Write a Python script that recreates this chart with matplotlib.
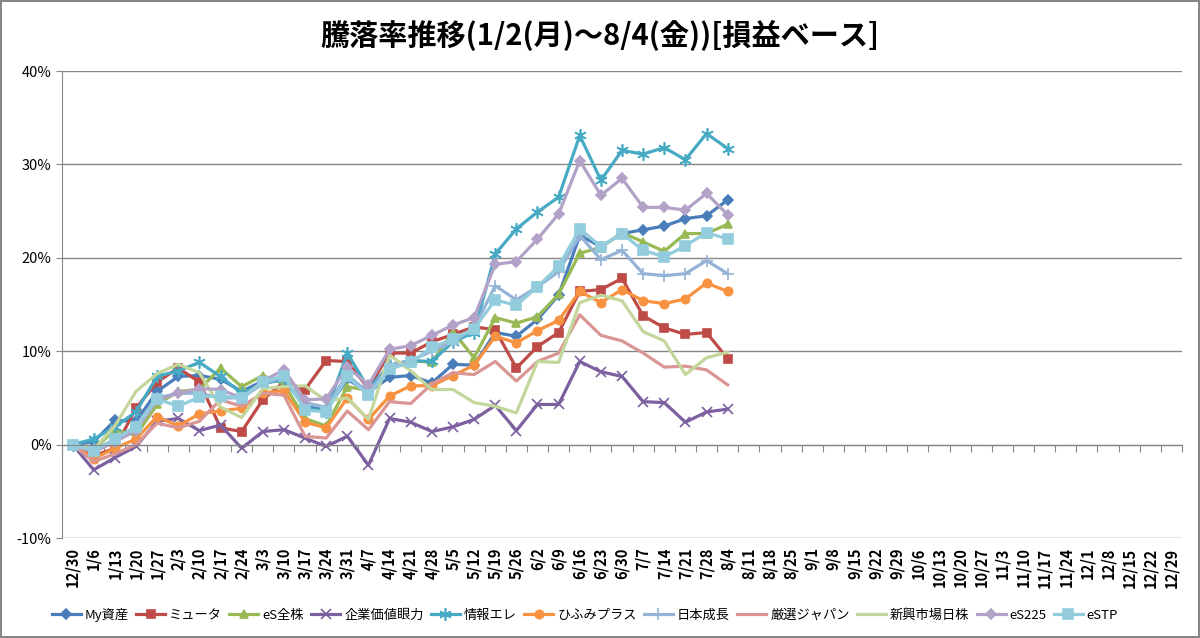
import matplotlib
matplotlib.use("Agg")
import matplotlib.pyplot as plt
import numpy as np
from matplotlib.ticker import FuncFormatter

plt.rcParams['font.family'] = ['Noto Sans CJK JP', 'DejaVu Sans']

_GRID = "#868686"
_TXT = "#000000"

dates = ["12/30", "1/6", "1/13", "1/20", "1/27", "2/3", "2/10", "2/17", "2/24",
         "3/3", "3/10", "3/17", "3/24", "3/31", "4/7", "4/14", "4/21", "4/28",
         "5/5", "5/12", "5/19", "5/26", "6/2", "6/9", "6/16", "6/23", "6/30",
         "7/7", "7/14", "7/21", "7/28", "8/4", "8/11", "8/18", "8/25", "9/1",
         "9/8", "9/15", "9/22", "9/29", "10/6", "10/13", "10/20", "10/27",
         "11/3", "11/10", "11/17", "11/24", "12/1", "12/8", "12/15", "12/22",
         "12/29"]

# weekly returns in %, 12/30 .. 8/4
my_assets = [0, 0.3, 2.6, 2.5, 5.7, 7.3, 7.4, 7.0, 5.7, 6.8, 7.0, 4.1, 3.7, 7.0,
             5.6, 7.2, 7.4, 6.6, 8.6, 8.5, 12.0, 11.6, 13.4, 16.0, 22.4, 21.2,
             22.6, 23.0, 23.4, 24.2, 24.5, 26.2]
myuta = [0, -1.2, -0.4, 3.9, 6.7, 8.2, 6.7, 1.8, 1.4, 4.8, 6.7, 5.9, 9.0, 8.9,
         6.0, 9.8, 9.8, 11.0, 11.8, 12.6, 12.3, 8.2, 10.5, 12.0, 16.4, 16.6,
         17.8, 13.8, 12.5, 11.8, 12.0, 9.2]
es_all = [0, -0.5, 1.6, 1.0, 4.3, 5.7, 5.9, 8.2, 6.2, 7.4, 6.5, 2.8, 2.0, 6.2,
          5.8, 8.5, 9.0, 8.8, 12.1, 9.3, 13.6, 13.0, 13.7, 16.1, 20.5, 21.1,
          22.7, 21.7, 20.7, 22.6, 22.6, 23.6]
kigyo = [0, -2.7, -1.4, -0.2, 2.5, 2.8, 1.5, 2.1, -0.4, 1.4, 1.6, 0.7, -0.2, 0.9,
         -2.2, 2.8, 2.4, 1.4, 1.9, 2.7, 4.2, 1.5, 4.3, 4.3, 8.9, 7.8, 7.3, 4.6,
         4.5, 2.4, 3.5, 3.8]
joho = [0, 0.6, 1.9, 3.5, 7.3, 7.9, 8.8, 7.3, 5.5, 6.5, 7.0, 4.0, 3.5, 9.8,
        6.0, 8.5, 9.0, 8.9, 11.0, 12.0, 20.4, 23.1, 24.9, 26.5, 33.1, 28.3,
        31.5, 31.1, 31.8, 30.5, 33.3, 31.7]
hifumi = [0, -1.5, -0.4, 0.6, 3.0, 2.0, 3.3, 3.6, 3.9, 5.5, 5.8, 2.4, 1.8, 5.0,
          2.7, 5.2, 6.3, 6.3, 7.4, 8.5, 11.6, 10.9, 12.2, 13.3, 16.4, 15.2,
          16.6, 15.4, 15.1, 15.6, 17.3, 16.4]
nihon = [0, -0.5, 0.5, 2.0, 5.0, 5.5, 5.5, 5.0, 5.0, 6.5, 7.3, 4.5, 4.0, 7.5,
         5.5, 8.5, 9.0, 10.0, 11.0, 12.5, 17.0, 15.5, 16.9, 18.5, 22.4, 19.8,
         20.8, 18.3, 18.1, 18.3, 19.7, 18.3]
gensen = [0, -1.8, -1.0, 0.0, 2.3, 1.8, 2.5, 4.8, 4.1, 5.5, 5.3, 0.9, 0.7, 3.6,
          1.6, 4.6, 4.4, 6.5, 7.7, 7.5, 8.9, 6.8, 8.9, 9.8, 13.9, 11.7, 11.1,
          9.8, 8.3, 8.4, 8.0, 6.4]
shinko = [0, -0.5, 2.0, 5.7, 7.6, 8.6, 7.7, 4.0, 2.9, 6.0, 6.2, 6.3, 4.7, 5.0,
          2.7, 9.6, 7.9, 5.9, 5.9, 4.5, 4.1, 3.4, 8.9, 8.8, 15.2, 16.0, 15.4,
          12.1, 11.1, 7.5, 9.3, 9.9]
es225 = [0, -0.8, 0.3, 1.5, 4.8, 5.5, 6.0, 5.9, 5.0, 6.8, 8.0, 4.8, 4.9, 8.3,
         6.4, 10.2, 10.6, 11.7, 12.8, 13.6, 19.3, 19.6, 22.0, 24.7, 30.4, 26.7,
         28.5, 25.4, 25.4, 25.1, 26.9, 24.6]
estp = [0, -0.7, 0.6, 1.9, 4.9, 4.1, 5.1, 5.2, 5.0, 6.7, 7.4, 3.7, 3.5, 7.3,
        5.3, 8.1, 8.8, 10.4, 11.3, 12.4, 15.5, 14.9, 16.9, 19.1, 23.1, 21.2,
        22.6, 20.8, 20.1, 21.3, 22.7, 22.0]

series = [
    ("My資産",      my_assets, "#4A7EBB", "D",       5),
    ("ミュータ",    myuta,     "#BE4B48", "s",       6),
    ("eS全株",      es_all,    "#98B954", "^",       6),
    ("企業価値眼力", kigyo,    "#7D60A0", "x",       7),
    ("情報エレ",    joho,      "#46AAC5", (6, 2, 0), 9),
    ("ひふみプラス", hifumi,   "#F69240", "o",       6),
    ("日本成長",    nihon,     "#95B3D7", "+",       8),
    ("厳選ジャパン", gensen,   "#D99694", None,      0),
    ("新興市場日株", shinko,   "#C3D69B", None,      0),
    ("eS225",       es225,     "#B3A2C7", "D",       5),
    ("eSTP",        estp,      "#93CDDD", "s",       7),
]

fig = plt.figure(figsize=(12, 6.38), dpi=100)
fig.patch.set_edgecolor(_GRID)
fig.patch.set_linewidth(1.5)
ax = fig.add_axes([0.0517, 0.1567, 0.9333, 0.732])

for name, vals, col, mk, ms in series:
    x = np.arange(len(vals))
    ax.plot(x, vals, color=col, lw=2.3, marker=mk, ms=ms, mfc=col, mec=col,
            mew=1.2, label=name)

ax.set_xlim(-0.5, len(dates) - 0.5)
ax.set_ylim(-10, 40)
ax.set_yticks(np.arange(-10, 41, 10))
ax.yaxis.set_major_formatter(FuncFormatter(lambda v, p: f"{v:.0f}%"))
ax.tick_params(axis="y", colors=_TXT, labelsize=10.5, length=4, color=_GRID)
ax.grid(axis="y", color=_GRID, lw=1)
ax.set_axisbelow(True)

for s in ("top", "right"):
    ax.spines[s].set_visible(False)
ax.spines["left"].set_color(_GRID)
ax.spines["bottom"].set_color(_GRID)
ax.spines["bottom"].set_position(("data", 0))

# tick marks between categories, labels at the bottom of the plot
ax.set_xticks(np.arange(len(dates) + 1) - 0.5)
ax.set_xticklabels([])
ax.tick_params(axis="x", which="major", length=5, color=_GRID, direction="out")
ax.set_xticks(np.arange(len(dates)), minor=True)
ax.set_xticklabels(dates, minor=True, rotation=90, fontsize=10.5,
                   fontweight="bold", color=_TXT)
ax.tick_params(axis="x", which="minor", length=0, pad=74)

fig.text(0.5, 0.945, "騰落率推移(1/2(月)～8/4(金))[損益ベース]",
         ha="center", va="center", fontsize=21, fontweight="bold", color=_TXT)

fig.legend(loc="center", bbox_to_anchor=(0.4875, 0.036), ncol=11, frameon=False,
           fontsize=9.5, handlelength=2.2, columnspacing=0.55, handletextpad=0.3,
           borderaxespad=0)

fig.savefig("out.png", dpi=100, facecolor="white", edgecolor=fig.patch.get_edgecolor())
